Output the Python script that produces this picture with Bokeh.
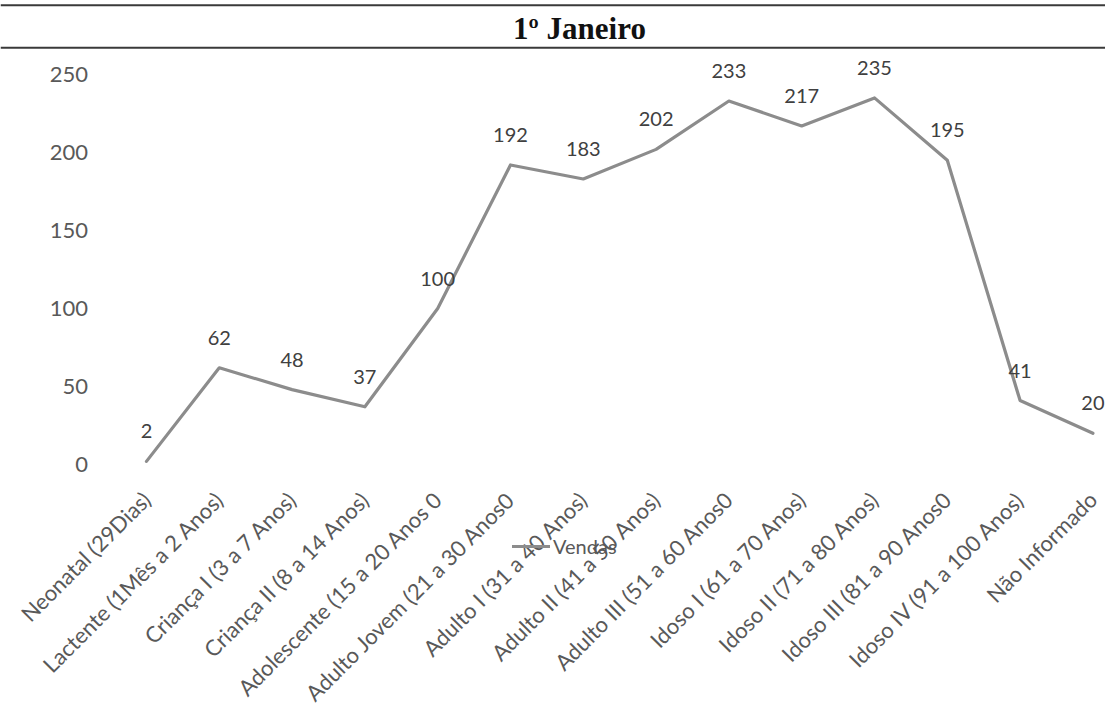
import math
from bokeh.plotting import figure
from bokeh.models import (Range1d, ColumnDataSource, LabelSet, Legend, LegendItem,
                          Span, Label, FixedTicker)
from bokeh.core.properties import value
from bokeh.embed import file_html
from bokeh.resources import INLINE

# ---- data ----
title_text = "1º Janeiro"
series_name = "Vendas"
categories = [
    "Neonatal (29Dias)",
    "Lactente (1Mês a 2 Anos)",
    "Criança I (3 a 7 Anos)",
    "Criança II (8 a 14 Anos)",
    "Adolescente (15 a 20 Anos 0",
    "Adulto Jovem (21 a 30 Anos0",
    "Adulto I (31 a 40 Anos)",
    "Adulto II (41 a 50 Anos)",
    "Adulto III (51 a 60 Anos0",
    "Idoso I (61 a 70 Anos)",
    "Idoso II (71 a 80 Anos)",
    "Idoso III (81 a 90 Anos0",
    "Idoso IV (91 a 100 Anos)",
    "Não Informado",
]
vendas = [2, 62, 48, 37, 100, 192, 183, 202, 233, 217, 235, 195, 41, 20]
y_ticks = [0, 50, 100, 150, 200, 250]

FONT = "Lato"
GREY_TXT = "#595959"
LINE_COL = "#8c8c8c"

# ---- header (title between two rules) ----
hdr = figure(width=1105, height=52, x_range=Range1d(0, 1), y_range=Range1d(0, 1),
             toolbar_location=None, output_backend="svg", min_border=0,
             x_axis_location=None, y_axis_location=None)
hdr.outline_line_color = None
hdr.xgrid.visible = False
hdr.ygrid.visible = False
hdr.add_layout(Span(location=0.91, dimension="width", line_color="#3a3a3a", line_width=2))
hdr.add_layout(Span(location=0.09, dimension="width", line_color="#3a3a3a", line_width=2))
hdr.add_layout(Label(x=0.524, y=0.47, text=title_text, text_align="center",
                     text_baseline="middle", text_font="Liberation Serif",
                     text_font_style="bold", text_font_size="31px", text_color="#111111"))

# ---- main chart ----
idx = list(range(len(categories)))
src = ColumnDataSource(dict(x=idx, y=vendas, label=[str(v) for v in vendas]))

p = figure(width=1105, height=656, x_range=Range1d(-2.005, 13.173),
           y_range=Range1d(-156.4, 264.1),
           toolbar_location=None, output_backend="svg", min_border=0)
p.outline_line_color = None
p.xgrid.visible = False
p.ygrid.visible = False

r = p.line(x="x", y="y", source=src, line_color=LINE_COL, line_width=3.2,
           line_join="round", line_cap="round")

labels = LabelSet(x="x", y="y", text="label", source=src, y_offset=23,
                  text_align="center", text_baseline="bottom",
                  text_font=value(FONT), text_font_size="20px", text_color="#404040")
p.add_layout(labels)

xa = p.xaxis[0]
xa.fixed_location = 0
xa.ticker = FixedTicker(ticks=idx)
xa.major_label_overrides = {i: c for i, c in zip(idx, categories)}
xa.major_label_orientation = math.pi / 4
xa.axis_line_color = None
xa.major_tick_line_color = None
xa.minor_tick_line_color = None
xa.major_label_standoff = 25
xa.major_label_text_font = FONT
xa.major_label_text_font_size = "22px"
xa.major_label_text_color = GREY_TXT

ya = p.yaxis[0]
ya.fixed_location = -0.5
ya.ticker = FixedTicker(ticks=y_ticks)
ya.axis_line_color = None
ya.major_tick_line_color = None
ya.minor_tick_line_color = None
ya.major_label_standoff = 16
ya.major_label_text_font = FONT
ya.major_label_text_font_size = "22px"
ya.major_label_text_color = GREY_TXT

legend = Legend(items=[LegendItem(label=series_name, renderers=[r])],
                location=(512, 150), padding=0, margin=0, spacing=0,
                glyph_width=38, label_standoff=3,
                label_text_font=FONT, label_text_font_size="20px",
                label_text_color=GREY_TXT,
                background_fill_alpha=0, border_line_color=None)
p.add_layout(legend)

open("out.html", "w").write(file_html([hdr, p], INLINE))
